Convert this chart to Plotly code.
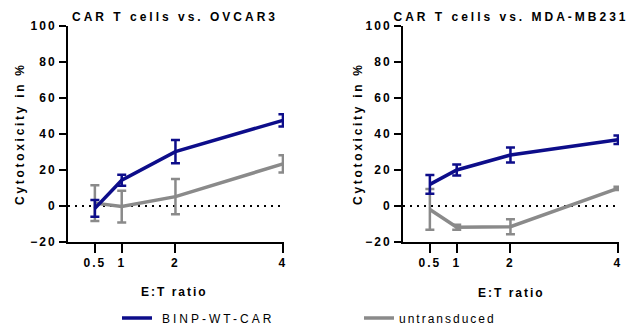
import plotly.graph_objects as go

ratios = [0.5, 1, 2, 4]

# OVCAR3 panel
ov_car = [-1.3, 14.3, 30.2, 47.6]
ov_car_err = [4.7, 3.0, 6.5, 3.4]
ov_ut = [1.6, -0.3, 5.2, 23.4]
ov_ut_err = [9.9, 8.8, 9.8, 4.8]

# MDA-MB231 panel
md_car = [12.0, 20.0, 28.3, 36.8]
md_car_err = [5.2, 3.0, 4.2, 2.4]
md_ut = [-1.9, -11.8, -11.5, 9.8]
md_ut_err = [11.3, 1.4, 4.2, 0.9]

titles = ["CAR T cells vs. OVCAR3", "CAR T cells vs. MDA-MB231"]
series_names = ["BINP-WT-CAR", "untransduced"]
y_ticks = [-20, 0, 20, 40, 60, 80, 100]

NAVY = "#0d0d8a"
GRAY = "#8a8a8a"
FONT = "Liberation Sans, Arial, sans-serif"

fig = go.Figure()

def add_panel(xa, ya, car, car_err, ut, ut_err, show_car, show_ut):
    fig.add_trace(go.Scatter(
        x=[0, 4], y=[0, 0], mode="lines", xaxis=xa, yaxis=ya,
        line=dict(color="black", width=2, dash="2px,5px"),
        showlegend=False, hoverinfo="skip"))
    fig.add_trace(go.Scatter(
        x=ratios, y=ut, mode="lines", name=series_names[1], xaxis=xa, yaxis=ya,
        line=dict(color=GRAY, width=3.5), legend="legend2",
        error_y=dict(type="data", array=ut_err, color=GRAY, thickness=2.5, width=4.5),
        showlegend=show_ut))
    fig.add_trace(go.Scatter(
        x=ratios, y=car, mode="lines", name=series_names[0], xaxis=xa, yaxis=ya,
        line=dict(color=NAVY, width=3.5), legend="legend",
        error_y=dict(type="data", array=car_err, color=NAVY, thickness=2.5, width=4.5),
        showlegend=show_car))

add_panel("x", "y", ov_car, ov_car_err, ov_ut, ov_ut_err, True, False)
add_panel("x2", "y2", md_car, md_car_err, md_ut, md_ut_err, False, True)

tickfont = dict(family=FONT, size=12, color="black", weight="bold")
xcommon = dict(range=[0, 4.02], tickvals=ratios, ticktext=["0.5", "1", "2", "4"],
               showgrid=False, zeroline=False, showline=True, linecolor="black",
               linewidth=2, ticks="outside", ticklen=9, tickwidth=2, tickcolor="black",
               tickfont=tickfont)
ycommon = dict(range=[-20, 100], tickvals=y_ticks, showgrid=False, zeroline=False,
               showline=True, linecolor="black", linewidth=2, ticks="outside",
               ticklen=7, tickwidth=2, tickcolor="black", tickfont=tickfont)

H = 329.0
ybot = 1 - 242 / H
ytop = 1 - 26 / H

legfont = dict(family=FONT, size=12, color="black")
fig.update_layout(
    width=630, height=329,
    margin=dict(l=0, r=0, t=0, b=0, autoexpand=False),
    paper_bgcolor="white", plot_bgcolor="white",
    xaxis=dict(domain=[68 / 630, 284 / 630], anchor="y", **xcommon),
    yaxis=dict(domain=[ybot, ytop], anchor="x", **ycommon),
    xaxis2=dict(domain=[403 / 630, 619 / 630], anchor="y2", **xcommon),
    yaxis2=dict(domain=[ybot, ytop], anchor="x2", **ycommon),
    showlegend=True,
    legend=dict(orientation="h", x=117 / 630, y=1 - 318 / H, xanchor="left", yanchor="middle",
                font=legfont, bgcolor="rgba(0,0,0,0)", itemwidth=30,
                entrywidth=140, entrywidthmode="pixels"),
    legend2=dict(orientation="h", x=359 / 630, y=1 - 318 / H, xanchor="left", yanchor="middle",
                 font=legfont, bgcolor="rgba(0,0,0,0)", itemwidth=30,
                 entrywidth=140, entrywidthmode="pixels"),
)

ann_font = dict(family=FONT, size=12, color="black", weight="bold")
anns = [
    dict(text=titles[0], x=175 / 630, y=1 - 17 / H),
    dict(text=titles[1], x=511 / 630, y=1 - 17 / H),
    dict(text="E:T ratio", x=174 / 630, y=1 - 292 / H),
    dict(text="E:T ratio", x=511 / 630, y=1 - 293 / H),
    dict(text="Cytotoxicity in %", x=20 / 630, y=1 - 134 / H, textangle=-90),
    dict(text="Cytotoxicity in %", x=358 / 630, y=1 - 134 / H, textangle=-90),
]
for a in anns:
    fig.add_annotation(xref="paper", yref="paper", xanchor="center", yanchor="middle",
                       showarrow=False, font=ann_font, **a)

post = """
var gd = document.getElementById('{plot_id}');
function sp(){
  gd.querySelectorAll('text').forEach(function(t){
    var s = t.textContent || '';
    if (s.indexOf('CAR T') === 0) { t.style.letterSpacing='3px'; }
    else if (s.indexOf('Cytotox') === 0) { t.style.letterSpacing='2.7px'; }
    else { t.style.letterSpacing='2px'; }
  });
  gd.querySelectorAll('.legendtext').forEach(function(t){
    t.style.letterSpacing='3px';
    t.setAttribute('transform', 'translate(5,0)');
  });
}
sp();
gd.on('plotly_afterplot', sp);
"""
fig.write_html("out.html", post_script=post)
